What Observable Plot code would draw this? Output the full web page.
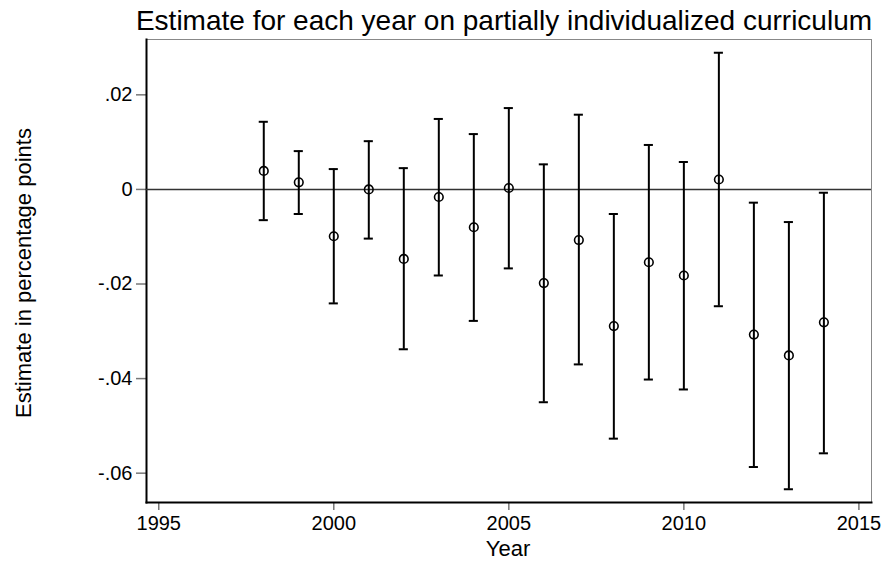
<!DOCTYPE html>
<html>
<head>
<meta charset="utf-8">
<script src="https://cdn.jsdelivr.net/npm/d3@7"></script>
<script src="https://cdn.jsdelivr.net/npm/@observablehq/plot@0.6"></script>
<style>
  body { margin: 0; background: white; font-family: "Liberation Sans", Arial, sans-serif; }
  #wrap { position: relative; width: 886px; height: 563px; }
  .lbl { position: absolute; color: #000; white-space: nowrap; line-height: 1; }
  #title { left: 0; width: 1008px; top: 7px; text-align: center; font-size: 28px; }
  #xlabel { left: 458px; width: 100px; top: 538px; text-align: center; font-size: 22px; }
  #ylabel { left: 24px; top: 273px; font-size: 22px; transform: translate(-50%, -50%) rotate(-90deg); }
  #chart svg { display: block; }
  #chart svg g.ticklab text { font-size: 20px !important; font-family: "Liberation Sans", Arial, sans-serif !important; }
</style>
</head>
<body>
<div id="wrap">
  <div id="chart"></div>
  <div class="lbl" id="title">Estimate for each year on partially individualized curriculum</div>
  <div class="lbl" id="xlabel">Year</div>
  <div class="lbl" id="ylabel">Estimate in percentage points</div>
</div>
<script>
// point estimates + 95% CI
const years = [1998, 1999, 2000, 2001, 2002, 2003, 2004, 2005, 2006, 2007, 2008, 2009, 2010, 2011, 2012, 2013, 2014]
const estimate = [0.0039, 0.0015, -0.0099, 0.0000, -0.0147, -0.0016, -0.0080, 0.0003, -0.0198, -0.0107, -0.0289, -0.0154, -0.0182, 0.0021, -0.0307, -0.0351, -0.0281]
const upper = [0.0143, 0.0081, 0.0043, 0.0102, 0.0045, 0.0149, 0.0117, 0.0172, 0.0053, 0.0158, -0.0052, 0.0094, 0.0058, 0.0289, -0.0028, -0.0069, -0.0007]
const lower = [-0.0065, -0.0052, -0.0241, -0.0104, -0.0338, -0.0182, -0.0278, -0.0167, -0.0450, -0.0370, -0.0527, -0.0402, -0.0423, -0.0247, -0.0587, -0.0634, -0.0558]

const xTicks = [1995, 2000, 2005, 2010, 2015]
const yTicks = [0.02, 0, -0.02, -0.04, -0.06]

const data = years.map((y, i) => ({year: y, est: estimate[i], hi: upper[i], lo: lower[i]}))

const capHalf = 0.13 // half width of the CI caps, in years

const fmtY = d => d === 0 ? "0" : d.toFixed(2).replace("0.", ".")

let chart = Plot.plot({
  width: 886,
  height: 563,
  marginLeft: 146,
  marginRight: 15,
  marginTop: 39,
  marginBottom: 61,
  style: {
    fontFamily: "Liberation Sans, Arial, sans-serif",
    fontSize: "20px",
    color: "#000",
    background: "white"
  },
  x: {domain: [1994.65, 2015.36]},
  y: {domain: [-0.0662, 0.0317]},
  marks: [
    Plot.frame({stroke: "#888", strokeWidth: 1}),
    // tick marks only, labels drawn below as text marks
    Plot.axisX(xTicks, {tickSize: 8, text: null, stroke: "#777", strokeWidth: 1.5, label: null}),
    Plot.axisY(yTicks, {tickSize: 10, text: null, stroke: "#777", strokeWidth: 1.5, label: null}),
    Plot.text(xTicks, {x: d => d, text: d => String(d), frameAnchor: "bottom", lineAnchor: "top", dy: 13, fontSize: 20, fill: "black", className: "ticklab"}),
    Plot.text(yTicks, {y: d => d, text: fmtY, frameAnchor: "left", textAnchor: "end", dx: -14, fontSize: 20, fill: "black", className: "ticklab"}),
    Plot.frame({anchor: "left", stroke: "black", strokeWidth: 2}),
    Plot.frame({anchor: "bottom", stroke: "black", strokeWidth: 2}),
    Plot.ruleY([0], {stroke: "#333", strokeWidth: 1.5}),
    Plot.ruleX(data, {x: "year", y1: "lo", y2: "hi", stroke: "black", strokeWidth: 2}),
    Plot.ruleY(data, {y: "hi", x1: d => d.year - capHalf, x2: d => d.year + capHalf, stroke: "black", strokeWidth: 2}),
    Plot.ruleY(data, {y: "lo", x1: d => d.year - capHalf, x2: d => d.year + capHalf, stroke: "black", strokeWidth: 2}),
    Plot.dot(data, {x: "year", y: "est", r: 4.3, stroke: "black", strokeWidth: 1.6, fill: "none"})
  ]
})
d3.select("#chart").append(() => chart)
</script>
</body>
</html>
